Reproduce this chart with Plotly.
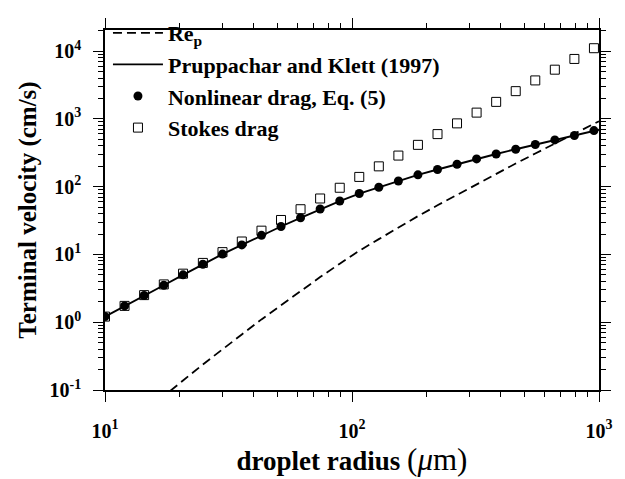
import plotly.graph_objects as go

# ---- data ----
radius_um = [10.0, 12.0, 14.4, 17.3, 20.7, 24.9, 29.9, 35.8, 43.0, 51.6, 61.9, 74.3, 89.2,
             107.0, 128.4, 154.1, 184.9, 221.9, 266.2, 319.5, 383.4, 460.1, 552.1, 662.5,
             795.0, 954.0]
nonlinear_v = [1.21, 1.74, 2.48, 3.51, 5.0, 7.16, 10.1, 13.8, 19.1, 25.8, 34.7, 46.7, 61.3,
               79.0, 98.0, 121, 149, 179, 214, 256, 303, 356, 418, 488, 568, 671]
stokes_v = [1.21, 1.74, 2.51, 3.61, 5.20, 7.49, 10.8, 15.5, 22.4, 32.2, 46.4, 66.8, 96.2,
            139, 199, 287, 413, 595, 857, 1234, 1777, 2559, 3685, 5306, 7641, 11000]
pk_radius = [10.0, 12.0, 14.4, 17.3, 20.7, 24.9, 29.9, 35.8, 43.0, 51.6, 61.9, 74.3, 89.2,
             107.0, 128.4, 154.1, 184.9, 221.9, 266.2, 319.5, 383.4, 460.1, 552.1, 662.5,
             795.0, 954.0, 1000.0]
pk_v = [1.21, 1.74, 2.48, 3.51, 5.0, 7.16, 10.1, 13.8, 19.1, 25.8, 34.7, 46.7, 61.3,
        79.0, 98.0, 121, 149, 179, 214, 256, 303, 356, 418, 488, 568, 671, 690]
rep = [0.0161, 0.0278, 0.0476, 0.0809, 0.138, 0.238, 0.402, 0.659, 1.10, 1.78, 2.86, 4.63,
       7.29, 11.3, 16.8, 24.9, 36.7, 53.0, 76.0, 109, 155, 219, 308, 431, 602, 853, 920]

x_tickvals = [10, 100, 1000]
x_ticktext = ["10<sup>1</sup>", "10<sup>2</sup>", "10<sup>3</sup>"]
y_tickvals = [0.1, 1, 10, 100, 1000, 10000]
y_ticktext = ["10<sup>-1</sup>", "10<sup>0</sup>", "10<sup>1</sup>", "10<sup>2</sup>",
              "10<sup>3</sup>", "10<sup>4</sup>"]
x_minor = [20, 30, 40, 50, 60, 70, 80, 90, 200, 300, 400, 500, 600, 700, 800, 900]
y_minor = [m * 10.0 ** e for e in range(-1, 5) for m in range(2, 10)]

SERIF = "Liberation Serif"

fig = go.Figure()
fig.add_trace(go.Scatter(x=pk_radius, y=rep, mode="lines", name="Re<sub>p</sub>",
                         line=dict(color="black", width=1.8, dash="9px,5px")))
fig.add_trace(go.Scatter(x=pk_radius, y=pk_v, mode="lines", name="Pruppachar and Klett (1997)",
                         line=dict(color="black", width=1.9)))
fig.add_trace(go.Scatter(x=radius_um, y=nonlinear_v, mode="markers",
                         name="Nonlinear drag, Eq. (5)",
                         marker=dict(symbol="circle", size=9, color="black")))
fig.add_trace(go.Scatter(x=radius_um, y=stokes_v, mode="markers", name="Stokes drag",
                         marker=dict(symbol="square-open", size=9, color="black",
                                     line=dict(width=1))))

axis_common = dict(
    type="log", showgrid=False, zeroline=False,
    showline=True, linecolor="black", linewidth=1.5, mirror="allticks",
    ticks="outside", ticklen=10, tickwidth=1.2, tickcolor="black",
    tickfont=dict(family=SERIF, size=20, color="black", weight="bold"),
    tickmode="array",
)

fig.update_xaxes(**axis_common, range=[1, 3], tickvals=x_tickvals, ticktext=x_ticktext,
                 ticklabelstandoff=12,
                 minor=dict(tickmode="array", tickvals=x_minor, ticks="outside", ticklen=5,
                            tickwidth=1, tickcolor="black"),
                 title=dict(text="<b>droplet radius</b> <span style='font-size:31px'>(<i>μ</i>m)</span>",
                            standoff=6,
                            font=dict(family=SERIF, size=27, color="black")))
fig.update_yaxes(**axis_common, range=[-1, 4.31], tickvals=y_tickvals, ticktext=y_ticktext,
                 ticklabelstandoff=8,
                 minor=dict(tickmode="array", tickvals=y_minor, ticks="outside", ticklen=5,
                            tickwidth=1, tickcolor="black"),
                 title=dict(text="Terminal velocity (cm/s)", standoff=6,
                            font=dict(family=SERIF, size=25, color="black", weight="bold")))

fig.update_layout(
    width=625, height=479,
    margin=dict(l=105, r=20, t=15, b=87),
    paper_bgcolor="white", plot_bgcolor="white",
    legend=dict(x=0.006, y=1.05, xanchor="left", yanchor="top", bgcolor="rgba(0,0,0,0)",
                borderwidth=0, itemwidth=50, tracegroupgap=0,
                font=dict(family=SERIF, size=22, color="black", weight="bold")),
    showlegend=True,
)

fig.write_html("out.html")
